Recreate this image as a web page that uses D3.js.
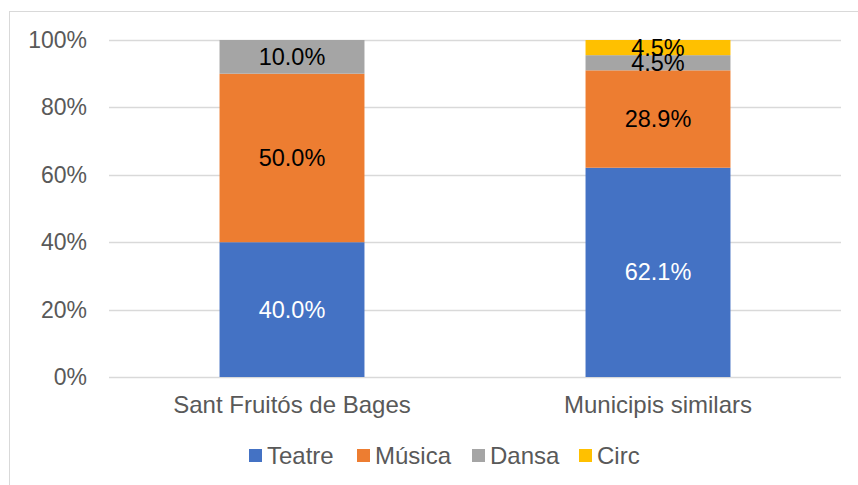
<!DOCTYPE html>
<html>
<head>
  <meta charset="utf-8">
  <style>
    body { margin: 0; background: white; font-family: "Liberation Sans", Arial, sans-serif; }
  </style>
</head>
<body>
  <svg id="chart"></svg>
  <script src="https://cdn.jsdelivr.net/npm/d3@7"></script>
  <script>
    var width = 858, height = 485;
    var categories = ["Sant Fruitós de Bages", "Municipis similars"];
    var seriesNames = ["Teatre", "Música", "Dansa", "Circ"];
    var seriesColors = ["#4472c4", "#ed7d31", "#a5a5a5", "#ffc000"];
    var teatre = [40.0, 62.1];
    var musica = [50.0, 28.9];
    var dansa = [10.0, 4.5];
    var circ = [0.0, 4.5];
    var yTicks = [0, 20, 40, 60, 80, 100];

    var margin = { top: 40, left: 109, right: 17, bottom: 108 };

    var svg = d3.select("#chart").attr("width", width).attr("height", height);

    // chart border (right and bottom run off the picture)
    svg.append("rect")
      .attr("x", 9.5).attr("y", 11.5)
      .attr("width", width).attr("height", height)
      .attr("fill", "none").attr("stroke", "#d9d9d9").attr("stroke-width", 1);

    var table = categories.map(function (c, i) {
      return { category: c, Teatre: teatre[i], "Música": musica[i], Dansa: dansa[i], Circ: circ[i] };
    });
    var stacked = d3.stack().keys(seriesNames)(table);

    var x = d3.scaleBand()
      .domain(categories)
      .range([margin.left, width - margin.right])
      .paddingInner(0.604).paddingOuter(0.302);

    var y = d3.scaleLinear()
      .domain([0, 100])
      .range([height - margin.bottom, margin.top]);

    var color = d3.scaleOrdinal().domain(seriesNames).range(seriesColors);

    // gridlines
    svg.append("g").selectAll("line")
      .data(yTicks)
      .join("line")
      .attr("x1", margin.left).attr("x2", width - margin.right)
      .attr("y1", function (d) { return Math.round(y(d)) + 0.5; })
      .attr("y2", function (d) { return Math.round(y(d)) + 0.5; })
      .attr("stroke", "#d9d9d9").attr("stroke-width", 1.3);

    // y axis labels
    svg.append("g").selectAll("text")
      .data(yTicks)
      .join("text")
      .attr("x", 87)
      .attr("y", function (d) { return y(d) + 8; })
      .attr("text-anchor", "end")
      .attr("font-size", "23px")
      .attr("fill", "#595959")
      .text(function (d) { return d + "%"; });

    // bars
    var layers = svg.append("g").selectAll("g")
      .data(stacked)
      .join("g")
      .attr("fill", function (d) { return color(d.key); });

    layers.selectAll("rect")
      .data(function (d) { return d; })
      .join("rect")
      .attr("x", function (d) { return x(d.data.category); })
      .attr("width", x.bandwidth())
      .attr("y", function (d) { return y(d[1]); })
      .attr("height", function (d) { return y(d[0]) - y(d[1]); });

    // value labels
    stacked.forEach(function (layer) {
      svg.append("g").selectAll("text")
        .data(layer.filter(function (d) { return d[1] - d[0] > 0; }))
        .join("text")
        .attr("x", function (d) { return x(d.data.category) + x.bandwidth() / 2; })
        .attr("y", function (d) { return y((d[0] + d[1]) / 2) + 8; })
        .attr("text-anchor", "middle")
        .attr("font-size", "23.5px")
        .attr("fill", layer.key == "Teatre" ? "white" : "black")
        .text(function (d) { return d3.format(".1f")(d[1] - d[0]) + "%"; });
    });

    // x axis labels
    svg.append("g").selectAll("text")
      .data(categories)
      .join("text")
      .attr("x", function (d) { return x(d) + x.bandwidth() / 2; })
      .attr("y", 413)
      .attr("text-anchor", "middle")
      .attr("font-size", "24px")
      .attr("fill", "#595959")
      .text(function (d) { return d; });

    // legend
    var legendX = [249, 357, 472, 579];
    var legend = svg.append("g").selectAll("g")
      .data(seriesNames)
      .join("g")
      .attr("transform", function (d, i) { return "translate(" + legendX[i] + ",449)"; });
    legend.append("rect")
      .attr("width", 13).attr("height", 13)
      .attr("fill", function (d) { return color(d); });
    legend.append("text")
      .attr("x", 18).attr("y", 15)
      .attr("font-size", "24px")
      .attr("fill", "#595959")
      .text(function (d) { return d; });
  </script>
</body>
</html>
